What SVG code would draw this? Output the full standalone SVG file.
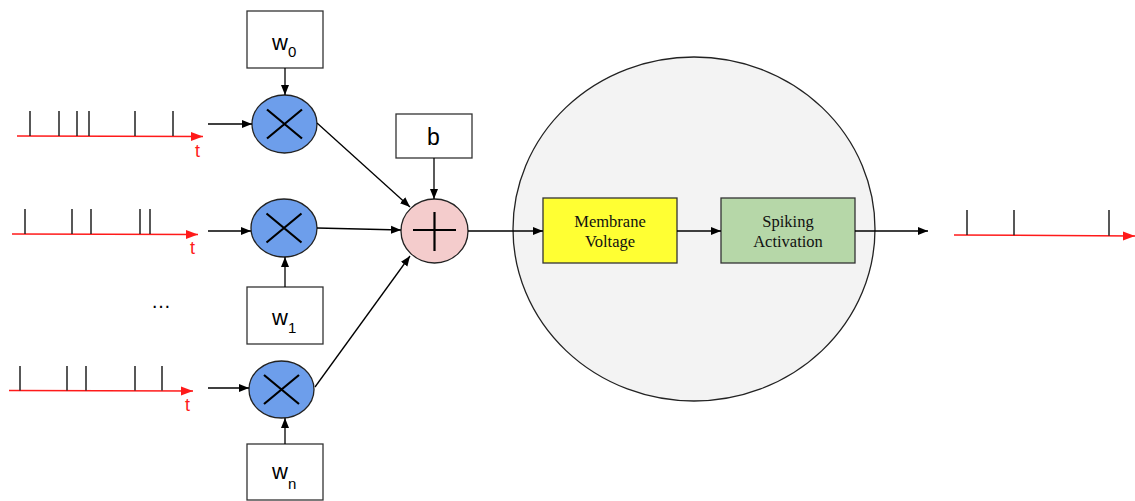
<svg xmlns="http://www.w3.org/2000/svg" width="1135" height="501" viewBox="0 0 1135 501">
  <style>
    .box { fill: #ffffff; stroke: #333333; stroke-width: 1.3; }
    .mul { fill: #6d9eeb; stroke: #222222; stroke-width: 1.3; }
    .sum { fill: #f4cccc; stroke: #222222; stroke-width: 1.3; }
    .sym { stroke: #000000; stroke-width: 2.2; fill: none; }
    .edge { stroke: #000000; stroke-width: 1.3; fill: none; marker-end: url(#arrow); }
    .axis { stroke: #ff1a1a; stroke-width: 1.5; fill: none; marker-end: url(#redArrow); }
    .spike { stroke: #222222; stroke-width: 1.5; }
    .lbl { font-family: "Liberation Sans", Arial, sans-serif; font-size: 22px; fill: #000000; }
    .sub { font-size: 15px; }
    .tlbl { font-family: "Liberation Sans", Arial, sans-serif; font-size: 18px; fill: #ff1a1a; }
    .serif { font-family: "Liberation Serif", "Times New Roman", serif; font-size: 16.5px; fill: #111111; text-anchor: middle; }
  </style>
  <defs>
    <marker id="arrow" viewBox="0 0 10 10" refX="10" refY="5" markerWidth="10" markerHeight="10" markerUnits="userSpaceOnUse" orient="auto">
      <path d="M0,1 L10,5 L0,9 Z" fill="#000000"/>
    </marker>
    <marker id="redArrow" viewBox="0 0 12 10" refX="12" refY="5" markerWidth="12" markerHeight="10" markerUnits="userSpaceOnUse" orient="auto">
      <path d="M0,0.5 L12,5 L0,9.5 Z" fill="#ff1a1a"/>
    </marker>
  </defs>

  <!-- input spike train 0 -->
  <g id="train0">
    <line class="axis" x1="17" y1="136" x2="203" y2="136.5"/>
    <path class="spike" d="M30,111V136 M59,111V136 M77,111V136 M89,111V136 M135,111V136 M173,111V136"/>
    <text class="tlbl" x="195" y="157">t</text>
  </g>

  <!-- input spike train 1 -->
  <g id="train1">
    <line class="axis" x1="12" y1="234" x2="198" y2="234.5"/>
    <path class="spike" d="M25,209V234 M72,209V234 M91,209V234 M140,209V234 M150,209V234"/>
    <text class="tlbl" x="190" y="254">t</text>
  </g>

  <g id="ellipsis">
    <text class="lbl" x="151" y="308" style="font-size:20px">…</text>
  </g>

  <!-- input spike train n -->
  <g id="trainN">
    <line class="axis" x1="9" y1="390.5" x2="193" y2="391"/>
    <path class="spike" d="M20,366V390.5 M67,366V390.5 M86,366V390.5 M135,366V390.5 M162,366V390.5"/>
    <text class="tlbl" x="185" y="411">t</text>
  </g>

  <!-- weight boxes -->
  <g id="w0">
    <rect class="box" x="247" y="11" width="76" height="57"/>
    <text class="lbl" x="272" y="50">w<tspan class="sub" dy="7">0</tspan></text>
  </g>
  <g id="w1">
    <rect class="box" x="247" y="287" width="76" height="57"/>
    <text class="lbl" x="272" y="325">w<tspan class="sub" dy="8">1</tspan></text>
  </g>
  <g id="wn">
    <rect class="box" x="247" y="444" width="76" height="56"/>
    <text class="lbl" x="272" y="479">w<tspan class="sub" dy="10">n</tspan></text>
  </g>
  <g id="bias">
    <rect class="box" x="396" y="114" width="76" height="44"/>
    <text class="lbl" x="427" y="144.5" style="font-size:23px">b</text>
  </g>

  <!-- multipliers -->
  <g id="mul0">
    <ellipse class="mul" cx="284.5" cy="124" rx="32.5" ry="29"/>
    <path class="sym" d="M267,109.5 L302,138.5 M302,109.5 L267,138.5"/>
  </g>
  <g id="mul1">
    <ellipse class="mul" cx="284" cy="228" rx="33" ry="29"/>
    <path class="sym" d="M266.5,213.5 L301.5,242.5 M301.5,213.5 L266.5,242.5"/>
  </g>
  <g id="mulN">
    <ellipse class="mul" cx="281.5" cy="389.5" rx="32.5" ry="28.5"/>
    <path class="sym" d="M264,375 L299,404 M299,375 L264,404"/>
  </g>

  <!-- summation -->
  <g id="sum">
    <ellipse class="sum" cx="434.5" cy="231" rx="33.5" ry="32"/>
    <path class="sym" d="M413,230 H456 M434.5,212 V251"/>
  </g>

  <!-- neuron body -->
  <g id="neuron">
    <ellipse cx="694" cy="229" rx="181" ry="172" fill="#f3f3f3" stroke="#222222" stroke-width="1.3"/>
  </g>
  <g id="membrane">
    <rect x="543" y="198" width="134" height="65" fill="#ffff33" stroke="#333333" stroke-width="1.3"/>
    <text class="serif" x="610" y="227">Membrane</text>
    <text class="serif" x="610" y="247">Voltage</text>
  </g>
  <g id="activation">
    <rect x="721" y="198" width="134" height="65" fill="#b6d7a8" stroke="#333333" stroke-width="1.3"/>
    <text class="serif" x="788" y="227">Spiking</text>
    <text class="serif" x="788" y="247">Activation</text>
  </g>

  <!-- output spike train -->
  <g id="trainOut">
    <line class="axis" x1="954" y1="235" x2="1135" y2="236"/>
    <path class="spike" d="M967,210V235 M1014,210V235.3 M1109,210V235.8"/>
  </g>

  <!-- connectors -->
  <g id="connectors">
    <line class="edge" x1="208" y1="124" x2="252" y2="124"/>
    <line class="edge" x1="208" y1="231" x2="251" y2="231"/>
    <line class="edge" x1="208" y1="388" x2="249" y2="388"/>
    <line class="edge" x1="285" y1="68" x2="285" y2="95"/>
    <line class="edge" x1="285" y1="287" x2="285" y2="257"/>
    <line class="edge" x1="285" y1="444" x2="285" y2="418"/>
    <line class="edge" x1="317" y1="123" x2="410" y2="207"/>
    <line class="edge" x1="317" y1="228" x2="401" y2="230"/>
    <line class="edge" x1="315" y1="387" x2="410" y2="256"/>
    <line class="edge" x1="434" y1="158" x2="434" y2="199"/>
    <line class="edge" x1="468" y1="231" x2="543" y2="231"/>
    <line class="edge" x1="677" y1="231" x2="721" y2="231"/>
    <line class="edge" x1="855" y1="231" x2="928" y2="231"/>
  </g>
</svg>
